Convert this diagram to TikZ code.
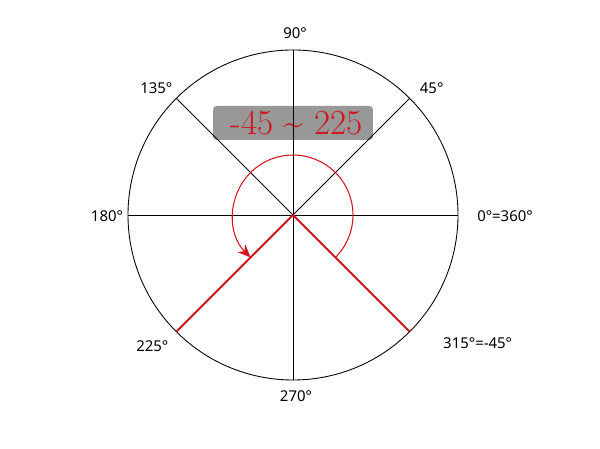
\documentclass[tikz,border=0pt]{standalone}
\usepackage{fontspec}
\newfontfamily\degfont{Noto Sans}
\usetikzlibrary{arrows.meta,positioning,calc}
\definecolor{angred}{RGB}{210,20,30}
\definecolor{boxgray}{RGB}{152,152,152}

\begin{document}
\begin{tikzpicture}[x=0.02cm,y=-0.02cm,
  axis/.style={draw=black,line width=0.5pt},
  ray/.style={draw=angred,line width=1.2pt},
  deg/.style={font=\degfont\fontsize{8.5}{10}\selectfont,inner sep=1pt},
  sweep/.style={-{Stealth[length=2.6mm,width=2.2mm]},draw=angred,line width=0.6pt}
]
\useasboundingbox (0,0) rectangle (600,449);
\coordinate (o) at (293,215);
% y runs downwards, so angles are negated
\foreach \a in {0,45,...,315} \coordinate (p\a) at ($(o)+(-\a:165)$);
\coordinate (s0) at ($(o)+(45:60)$);
% range box
\node[fill=boxgray,rounded corners=2pt,minimum width=3.2cm,minimum height=0.68cm,inner sep=0pt,
  text=angred,font=\rmfamily\fontsize{20}{21}\selectfont]
  (rng) at (293,123) {\hspace{4pt}-45 \textasciitilde{} 225};
% circle and axes
\draw[axis] (o) circle[radius=165];
\draw[axis] (p0) -- (p180);
\draw[axis] (p90) -- (p270);
\draw[axis] (p45) -- (o);
\draw[axis] (p135) -- (o);
\draw[ray] (o) -- (p225);
\draw[ray] (o) -- (p315);
\draw[sweep] (s0) arc[start angle=45,end angle=-225,radius=60];
% angle labels
\node[deg] (l90) at ($(p90)+(2,-17)$) {90°};
\node[deg] (l45) at ($(p45)+(22,-10)$) {45°};
\node[deg] (l135) at ($(p135)+(-20,-10)$) {135°};
\node[deg] (l180) at ($(p180)+(-21,1)$) {180°};
\node[deg] (l0) at ($(p0)+(47,1)$) {0°=360°};
\node[deg] (l225) at ($(p225)+(-24,14)$) {225°};
\node[deg] (l315) at ($(p315)+(68,12)$) {315°=-45°};
\node[deg] (l270) at ($(p270)+(3,16)$) {270°};
\end{tikzpicture}
\end{document}
